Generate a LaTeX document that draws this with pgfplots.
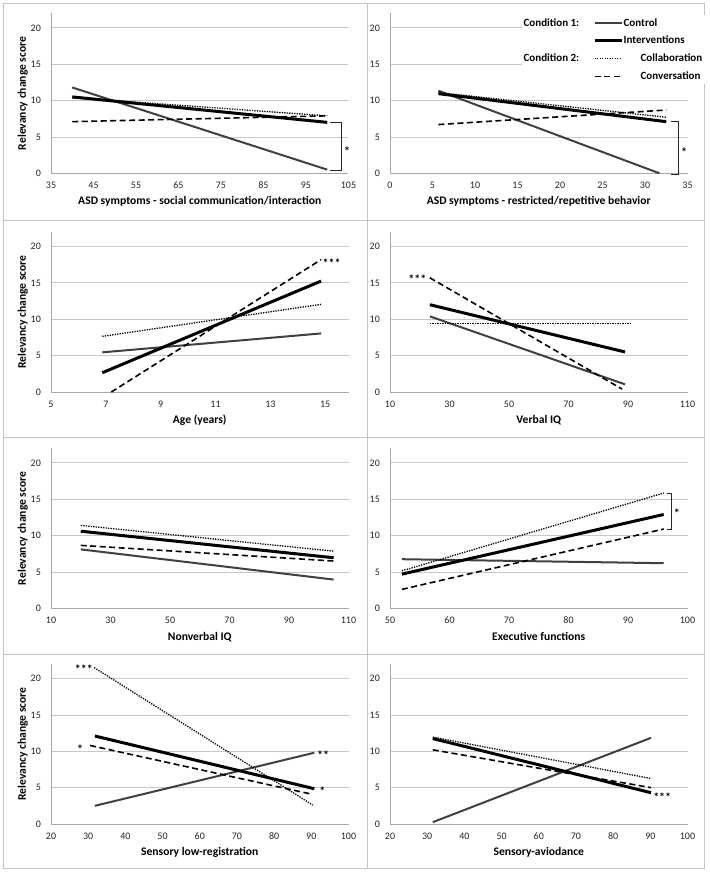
\documentclass[border=0pt]{standalone}
\usepackage{fontspec}
\setmainfont{Carlito}
\usepackage{pgfplots}
\pgfplotsset{compat=1.18}

\definecolor{ctrlgray}{HTML}{404040}
\definecolor{gridc}{HTML}{C8C8C8}
\definecolor{axc}{HTML}{A8A8A8}
\definecolor{framec}{HTML}{C4C4C4}

\tikzset{
  sStar/.style={font=\bfseries\fontsize{12}{14}\selectfont, inner sep=0pt, yshift=-2pt},
  sBrack/.style={black!85, line width=0.8pt},
}
\pgfplotsset{
  panel/.style={
    scale only axis, width=297.5pt, height=160pt,
    ymin=0, ymax=22, ytick={0,5,10,15,20},
    axis x line=bottom, axis y line=left,
    axis line style={axc, line width=0.8pt, -},
    ymajorgrids, grid style={gridc, line width=0.8pt},
    major tick style={draw=none},
    tick label style={font=\fontsize{10}{12}\selectfont, text=black!85},
    xticklabel style={yshift=-3pt},
    yticklabel style={xshift=-4.5pt},
    label style={font=\bfseries\fontsize{11.6}{14}\selectfont},
    xlabel style={at={(axis description cs:0.5,-0.178)}, anchor=center},
    ylabel style={at={(axis description cs:-0.095,0.5)}, anchor=center},
    /pgf/number format/assume math mode=true,
    clip=false,
    anchor=south west,
  },
  sCtrl/.style={ctrlgray, line width=2pt},
  sIntv/.style={black, line width=3pt},
  sCollab/.style={black, line width=1.3pt, dash pattern=on 1.3pt off 1.2pt},
  sConv/.style={black, line width=1.6pt, dash pattern=on 6pt off 3.5pt},
}

\begin{document}
\begin{tikzpicture}
\fill[white] (0,0) rectangle (709pt,874pt);
\path[use as bounding box] (0,0) rectangle (709pt,874pt);
% panel frames
\draw[framec, line width=0.8pt] (3pt,654pt) rectangle (367pt,871pt);
\draw[framec, line width=0.8pt] (367pt,654pt) rectangle (704pt,871pt);
\draw[framec, line width=0.8pt] (3pt,437pt) rectangle (367pt,654pt);
\draw[framec, line width=0.8pt] (367pt,437pt) rectangle (704pt,654pt);
\draw[framec, line width=0.8pt] (3pt,220pt) rectangle (367pt,437pt);
\draw[framec, line width=0.8pt] (367pt,220pt) rectangle (704pt,437pt);
\draw[framec, line width=0.8pt] (3pt,6pt) rectangle (367pt,220pt);
\draw[framec, line width=0.8pt] (367pt,6pt) rectangle (704pt,220pt);

% ---------- Panel 1
\begin{axis}[panel, at={(51pt,700.7pt)},
  xmin=35, xmax=105, xtick={35,45,...,105},
  xlabel={ASD symptoms - social communication/interaction},
  ylabel={Relevancy change score}]
\addplot[sCtrl] coordinates {(40,11.8) (100,0.5)};
\addplot[sIntv] coordinates {(40,10.5) (100,7.0)};
\addplot[sCollab] coordinates {(40,10.4) (100,7.9)};
\addplot[sConv] coordinates {(40,7.1) (100,7.9)};
\draw[sBrack] (axis cs:100.7,7.0) -- (axis cs:103.4,7.0) -- (axis cs:103.4,0.4) -- (axis cs:100.7,0.4);
\node[sStar] at (axis cs:104.7,3.3) {*};
\end{axis}

% ---------- Panel 2
\begin{axis}[panel, at={(390pt,700.7pt)},
  xmin=0, xmax=35, xtick={0,5,...,35},
  xlabel={ASD symptoms - restricted/repetitive behavior},
  legend style={at={(axis description cs:1.06,0.9875)}, anchor=north east,
    draw=none, fill=white, font=\bfseries\fontsize{11}{13}\selectfont,
    column sep=0pt, row sep=4.5pt, inner sep=1pt,
    nodes={inner xsep=0.5pt}},
  legend columns=2, legend cell align=left,
  legend image code/.code={\draw[#1] (0pt,0pt) -- (27pt,0pt);}]
\addplot[sCtrl, forget plot] coordinates {(5.7,11.35) (31.7,0)};
\addplot[sIntv, forget plot] coordinates {(5.7,10.95) (32.5,7.1)};
\addplot[sCollab, forget plot] coordinates {(5.7,11.1) (32.5,7.7)};
\addplot[sConv, forget plot] coordinates {(5.7,6.7) (32.5,8.7)};
\draw[sBrack] (axis cs:33.0,7.1) -- (axis cs:33.9,7.1) -- (axis cs:33.9,-0.1) -- (axis cs:33.0,-0.1);
\node[sStar] at (axis cs:34.6,3.2) {*};
\addlegendimage{empty legend}\addlegendentry{\makebox[69pt][l]{Condition 1:}}
\addlegendimage{sCtrl}\addlegendentry{\makebox[80pt][l]{Control}}
\addlegendimage{empty legend}\addlegendentry{\makebox[69pt][l]{}}
\addlegendimage{sIntv}\addlegendentry{\makebox[80pt][l]{Interventions}}
\addlegendimage{empty legend}\addlegendentry{\makebox[69pt][l]{Condition 2:}}
\addlegendimage{sCollab}\addlegendentry{\makebox[80pt][l]{\hspace*{17pt}Collaboration}}
\addlegendimage{empty legend}\addlegendentry{\makebox[69pt][l]{}}
\addlegendimage{sConv}\addlegendentry{\makebox[80pt][l]{\hspace*{17pt}Conversation}}
\end{axis}

% ---------- Panel 3
\begin{axis}[panel, at={(51pt,482pt)},
  xmin=5, xmax=15.85, xtick={5,7,...,15},
  xlabel={Age (years)},
  ylabel={Relevancy change score}]
\addplot[sCtrl] coordinates {(6.87,5.45) (14.85,8.05)};
\addplot[sIntv] coordinates {(6.87,2.65) (14.85,15.25)};
\addplot[sCollab] coordinates {(6.87,7.65) (14.85,12.05)};
\addplot[sConv] coordinates {(7.2,0) (14.85,18.2)};
\node[sStar, anchor=west] at (axis cs:14.9,18.0) {***};
\end{axis}

% ---------- Panel 4
\begin{axis}[panel, at={(390pt,482pt)},
  xmin=10, xmax=110, xtick={10,30,...,110},
  xlabel={Verbal IQ}]
\addplot[sCtrl] coordinates {(23.4,10.4) (89,1.05)};
\addplot[sIntv] coordinates {(23.4,12.0) (89,5.5)};
\addplot[sCollab] coordinates {(23.4,9.4) (91,9.4)};
\addplot[sConv] coordinates {(23.4,15.7) (88,0.4)};
\node[sStar, anchor=east] at (axis cs:22.3,15.8) {***};
\end{axis}

% ---------- Panel 5
\begin{axis}[panel, at={(51pt,265.7pt)},
  xmin=10, xmax=110, xtick={10,30,...,110},
  xlabel={Nonverbal IQ},
  ylabel={Relevancy change score}]
\addplot[sCtrl] coordinates {(20,8.1) (105,3.95)};
\addplot[sIntv] coordinates {(20,10.6) (105,6.95)};
\addplot[sCollab] coordinates {(20,11.4) (105,7.85)};
\addplot[sConv] coordinates {(20,8.65) (105,6.5)};
\end{axis}

% ---------- Panel 6
\begin{axis}[panel, at={(390pt,265.7pt)},
  xmin=50, xmax=100, xtick={50,60,...,100},
  xlabel={Executive functions}]
\addplot[sCtrl] coordinates {(52,6.75) (96,6.2)};
\addplot[sIntv] coordinates {(52,4.7) (96,12.9)};
\addplot[sCollab] coordinates {(52,5.15) (96,15.85)};
\addplot[sConv] coordinates {(52,2.6) (96,10.9)};
\draw[sBrack] (axis cs:96.5,15.85) -- (axis cs:97.3,15.85) -- (axis cs:97.3,10.8) -- (axis cs:96.5,10.8);
\node[sStar] at (axis cs:98.2,13.4) {*};
\end{axis}

% ---------- Panel 7
\begin{axis}[panel, at={(51pt,50pt)},
  xmin=20, xmax=100, xtick={20,30,...,100},
  xlabel={Sensory low-registration},
  ylabel={Relevancy change score}]
\addplot[sCtrl] coordinates {(31.8,2.5) (90.8,9.8)};
\addplot[sIntv] coordinates {(31.8,12.1) (90.8,4.85)};
\addplot[sCollab] coordinates {(31.6,21.5) (90.4,2.6)};
\addplot[sConv] coordinates {(30.5,10.8) (90.1,4.1)};
\node[sStar, anchor=east] at (axis cs:31.3,21.5) {***};
\node[sStar] at (axis cs:27.8,10.6) {*};
\node[sStar] at (axis cs:93.2,9.8) {**};
\node[sStar] at (axis cs:93.0,4.8) {*};
\end{axis}

% ---------- Panel 8
\begin{axis}[panel, at={(390pt,50pt)},
  xmin=20, xmax=100, xtick={20,30,...,100},
  xlabel={Sensory-aviodance}]
\addplot[sCtrl] coordinates {(31.5,0.25) (90.2,11.85)};
\addplot[sIntv] coordinates {(31.5,11.75) (90.2,4.3)};
\addplot[sCollab] coordinates {(31.5,11.95) (90.2,6.25)};
\addplot[sConv] coordinates {(31.5,10.2) (90.2,5.0)};
\node[sStar] at (axis cs:93.2,4.0) {***};
\end{axis}
\end{tikzpicture}
\end{document}
